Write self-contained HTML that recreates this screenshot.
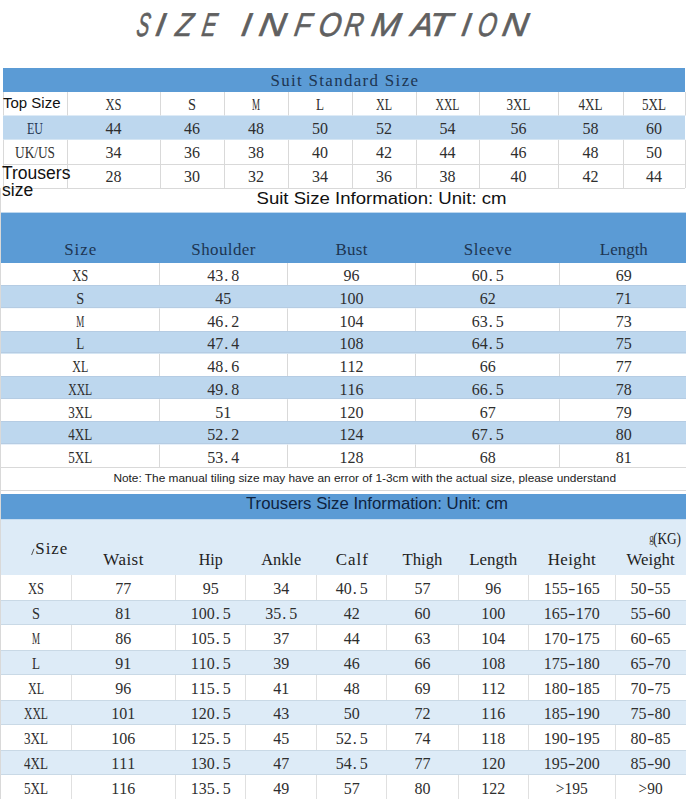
<!DOCTYPE html>
<html><head><meta charset="utf-8"><title>Size Information</title>
<style>
html,body{margin:0;padding:0;background:#fff;}
body{width:686px;height:799px;overflow:hidden;}
svg{display:block;}
.m{font-family:"Liberation Serif","Noto Serif CJK SC",serif;font-size:16px;}
.s{font-family:"Liberation Sans","Noto Sans CJK SC",sans-serif;}
.t{font-family:"Liberation Sans",sans-serif;font-size:33px;font-style:italic;}
</style></head>
<body>
<svg width="686" height="799" viewBox="0 0 686 799">
<rect x="0" y="0" width="686" height="799" fill="#fff"/>
<text class="t" transform="translate(0,36) skewX(-10)" y="0" fill="#606060" stroke="#606060" stroke-width="0.7"><tspan x="135.46" textLength="12.55" lengthAdjust="spacingAndGlyphs">S</tspan><tspan x="154.20" textLength="9.17" lengthAdjust="spacingAndGlyphs">I</tspan><tspan x="174.50" textLength="16.45" lengthAdjust="spacingAndGlyphs">Z</tspan><tspan x="200.76" textLength="14.18" lengthAdjust="spacingAndGlyphs">E</tspan> <tspan x="239.95" textLength="9.42" lengthAdjust="spacingAndGlyphs">I</tspan><tspan x="257.80" textLength="26.12" lengthAdjust="spacingAndGlyphs">N</tspan><tspan x="293.30" textLength="16.21" lengthAdjust="spacingAndGlyphs">F</tspan><tspan x="317.19" textLength="22.36" lengthAdjust="spacingAndGlyphs">O</tspan><tspan x="343.13" textLength="18.30" lengthAdjust="spacingAndGlyphs">R</tspan><tspan x="370.06" textLength="28.67" lengthAdjust="spacingAndGlyphs">M</tspan><tspan x="410.17" textLength="21.37" lengthAdjust="spacingAndGlyphs">A</tspan><tspan x="426.82" textLength="22.70" lengthAdjust="spacingAndGlyphs">T</tspan><tspan x="460.35" textLength="8.50" lengthAdjust="spacingAndGlyphs">I</tspan><tspan x="476.44" textLength="18.51" lengthAdjust="spacingAndGlyphs">O</tspan><tspan x="500.94" textLength="25.24" lengthAdjust="spacingAndGlyphs">N</tspan></text>
<rect x="3" y="68" width="682" height="24" fill="#5b9bd5"/>
<g transform="translate(270.40,86.3) scale(1.060,1)"><text class="m" x="0" y="0" fill="#1d3552" textLength="139.25" lengthAdjust="spacing">Suit Standard Size</text></g>
<rect x="3" y="92" width="682" height="23.5" fill="#fff"/>
<rect x="3" y="115.5" width="682" height="24.3" fill="#bdd7ee"/>
<rect x="3" y="139.8" width="682" height="24.2" fill="#fff"/>
<rect x="3" y="164" width="682" height="24" fill="#fff"/>
<rect x="3" y="164" width="682" height="1" fill="#d9d9d9"/>
<rect x="3" y="188" width="682" height="1" fill="#d9d9d9"/>
<rect x="3" y="92" width="1" height="23.5" fill="#d9d9d9"/>
<rect x="3" y="139.8" width="1" height="24.2" fill="#d9d9d9"/>
<rect x="3" y="164" width="1" height="24" fill="#d9d9d9"/>
<rect x="67" y="92" width="1" height="23.5" fill="#d9d9d9"/>
<rect x="67" y="139.8" width="1" height="24.2" fill="#d9d9d9"/>
<rect x="67" y="164" width="1" height="24" fill="#d9d9d9"/>
<rect x="160" y="92" width="1" height="23.5" fill="#d9d9d9"/>
<rect x="160" y="139.8" width="1" height="24.2" fill="#d9d9d9"/>
<rect x="160" y="164" width="1" height="24" fill="#d9d9d9"/>
<rect x="224" y="92" width="1" height="23.5" fill="#d9d9d9"/>
<rect x="224" y="139.8" width="1" height="24.2" fill="#d9d9d9"/>
<rect x="224" y="164" width="1" height="24" fill="#d9d9d9"/>
<rect x="288" y="92" width="1" height="23.5" fill="#d9d9d9"/>
<rect x="288" y="139.8" width="1" height="24.2" fill="#d9d9d9"/>
<rect x="288" y="164" width="1" height="24" fill="#d9d9d9"/>
<rect x="352" y="92" width="1" height="23.5" fill="#d9d9d9"/>
<rect x="352" y="139.8" width="1" height="24.2" fill="#d9d9d9"/>
<rect x="352" y="164" width="1" height="24" fill="#d9d9d9"/>
<rect x="416" y="92" width="1" height="23.5" fill="#d9d9d9"/>
<rect x="416" y="139.8" width="1" height="24.2" fill="#d9d9d9"/>
<rect x="416" y="164" width="1" height="24" fill="#d9d9d9"/>
<rect x="479" y="92" width="1" height="23.5" fill="#d9d9d9"/>
<rect x="479" y="139.8" width="1" height="24.2" fill="#d9d9d9"/>
<rect x="479" y="164" width="1" height="24" fill="#d9d9d9"/>
<rect x="558" y="92" width="1" height="23.5" fill="#d9d9d9"/>
<rect x="558" y="139.8" width="1" height="24.2" fill="#d9d9d9"/>
<rect x="558" y="164" width="1" height="24" fill="#d9d9d9"/>
<rect x="623" y="92" width="1" height="23.5" fill="#d9d9d9"/>
<rect x="623" y="139.8" width="1" height="24.2" fill="#d9d9d9"/>
<rect x="623" y="164" width="1" height="24" fill="#d9d9d9"/>
<rect x="685" y="92" width="1" height="23.5" fill="#d9d9d9"/>
<rect x="685" y="139.8" width="1" height="24.2" fill="#d9d9d9"/>
<rect x="685" y="164" width="1" height="24" fill="#d9d9d9"/>
<text class="m" x="105.50" y="110.4" fill="#2e2e2e" textLength="16.00" lengthAdjust="spacingAndGlyphs">XS</text>
<text class="m" x="188.00" y="110.4" fill="#2e2e2e" textLength="8.00" lengthAdjust="spacingAndGlyphs">S</text>
<text class="m" x="252.00" y="110.4" fill="#2e2e2e" textLength="8.00" lengthAdjust="spacingAndGlyphs">M</text>
<text class="m" x="316.00" y="110.4" fill="#2e2e2e" textLength="8.00" lengthAdjust="spacingAndGlyphs">L</text>
<text class="m" x="376.00" y="110.4" fill="#2e2e2e" textLength="16.00" lengthAdjust="spacingAndGlyphs">XL</text>
<text class="m" x="435.50" y="110.4" fill="#2e2e2e" textLength="24.00" lengthAdjust="spacingAndGlyphs">XXL</text>
<text class="m" x="506.50" y="110.4" fill="#2e2e2e" textLength="24.00" lengthAdjust="spacingAndGlyphs">3XL</text>
<text class="m" x="578.50" y="110.4" fill="#2e2e2e" textLength="24.00" lengthAdjust="spacingAndGlyphs">4XL</text>
<text class="m" x="642.00" y="110.4" fill="#2e2e2e" textLength="24.00" lengthAdjust="spacingAndGlyphs">5XL</text>
<text class="m" x="27.00" y="133.9" fill="#1f3550" textLength="16.00" lengthAdjust="spacingAndGlyphs">EU</text>
<text class="m" x="105.50 113.50" y="133.9" fill="#2e2e2e">44</text>
<text class="m" x="184.00 192.00" y="133.9" fill="#2e2e2e">46</text>
<text class="m" x="248.00 256.00" y="133.9" fill="#2e2e2e">48</text>
<text class="m" x="312.00 320.00" y="133.9" fill="#2e2e2e">50</text>
<text class="m" x="376.00 384.00" y="133.9" fill="#2e2e2e">52</text>
<text class="m" x="439.50 447.50" y="133.9" fill="#2e2e2e">54</text>
<text class="m" x="510.50 518.50" y="133.9" fill="#2e2e2e">56</text>
<text class="m" x="582.50 590.50" y="133.9" fill="#2e2e2e">58</text>
<text class="m" x="646.00 654.00" y="133.9" fill="#2e2e2e">60</text>
<text class="m" x="15.00" y="158.20000000000002" fill="#333" textLength="40.00" lengthAdjust="spacingAndGlyphs">UK/US</text>
<text class="m" x="105.50 113.50" y="158.20000000000002" fill="#2e2e2e">34</text>
<text class="m" x="184.00 192.00" y="158.20000000000002" fill="#2e2e2e">36</text>
<text class="m" x="248.00 256.00" y="158.20000000000002" fill="#2e2e2e">38</text>
<text class="m" x="312.00 320.00" y="158.20000000000002" fill="#2e2e2e">40</text>
<text class="m" x="376.00 384.00" y="158.20000000000002" fill="#2e2e2e">42</text>
<text class="m" x="439.50 447.50" y="158.20000000000002" fill="#2e2e2e">44</text>
<text class="m" x="510.50 518.50" y="158.20000000000002" fill="#2e2e2e">46</text>
<text class="m" x="582.50 590.50" y="158.20000000000002" fill="#2e2e2e">48</text>
<text class="m" x="646.00 654.00" y="158.20000000000002" fill="#2e2e2e">50</text>
<text class="m" x="105.50 113.50" y="182.4" fill="#2e2e2e">28</text>
<text class="m" x="184.00 192.00" y="182.4" fill="#2e2e2e">30</text>
<text class="m" x="248.00 256.00" y="182.4" fill="#2e2e2e">32</text>
<text class="m" x="312.00 320.00" y="182.4" fill="#2e2e2e">34</text>
<text class="m" x="376.00 384.00" y="182.4" fill="#2e2e2e">36</text>
<text class="m" x="439.50 447.50" y="182.4" fill="#2e2e2e">38</text>
<text class="m" x="510.50 518.50" y="182.4" fill="#2e2e2e">40</text>
<text class="m" x="582.50 590.50" y="182.4" fill="#2e2e2e">42</text>
<text class="m" x="646.00 654.00" y="182.4" fill="#2e2e2e">44</text>
<text class="s" x="3" y="107.7" font-size="15" fill="#111" text-anchor="start">Top Size</text>
<text class="s" x="2" y="179.2" font-size="17.5" fill="#111" text-anchor="start">Trousers</text>
<text class="s" x="2" y="195.6" font-size="17.5" fill="#111" text-anchor="start">size</text>
<text class="s" x="256.5" y="204" font-size="17" fill="#111" text-anchor="start" textLength="250" lengthAdjust="spacingAndGlyphs">Suit Size Information: Unit: cm</text>
<rect x="0" y="188" width="1" height="303" fill="#d9d9d9"/>
<rect x="1" y="212.6" width="685" height="50.4" fill="#5b9bd5"/>
<g transform="translate(64.25,255) scale(1.060,1)"><text class="m" x="0" y="0" fill="#1d3552" textLength="30.19" lengthAdjust="spacing">Size</text></g>
<g transform="translate(191.35,255) scale(1.060,1)"><text class="m" x="0" y="0" fill="#1d3552" textLength="60.38" lengthAdjust="spacing">Shoulder</text></g>
<g transform="translate(335.45,255) scale(1.060,1)"><text class="m" x="0" y="0" fill="#1d3552" textLength="30.19" lengthAdjust="spacing">Bust</text></g>
<g transform="translate(463.70,255) scale(1.060,1)"><text class="m" x="0" y="0" fill="#1d3552" textLength="45.28" lengthAdjust="spacing">Sleeve</text></g>
<g transform="translate(599.85,255) scale(1.059,1)"><text class="m" x="0" y="0" fill="#1d3552" textLength="45.32" lengthAdjust="spacing">Length</text></g>
<rect x="1" y="263.0" width="685" height="22.7" fill="#fff"/>
<rect x="159" y="263.0" width="1" height="22.7" fill="#d9d9d9"/>
<rect x="287" y="263.0" width="1" height="22.7" fill="#d9d9d9"/>
<rect x="415" y="263.0" width="1" height="22.7" fill="#d9d9d9"/>
<rect x="559" y="263.0" width="1" height="22.7" fill="#d9d9d9"/>
<text class="m" x="72.25" y="281.3" fill="#2e2e2e" textLength="16.00" lengthAdjust="spacingAndGlyphs">XS</text>
<text class="m" x="207.35 215.35 224.35 231.35" y="281.3" fill="#2e2e2e">43.8</text>
<text class="m" x="343.45 351.45" y="281.3" fill="#2e2e2e">96</text>
<text class="m" x="471.70 479.70 488.70 495.70" y="281.3" fill="#2e2e2e">60.5</text>
<text class="m" x="615.85 623.85" y="281.3" fill="#2e2e2e">69</text>
<rect x="1" y="285.7" width="685" height="22.7" fill="#bdd7ee"/>
<rect x="1" y="285" width="685" height="1" fill="#b5cce3"/>
<rect x="1" y="307" width="685" height="1" fill="#b5cce3"/>
<text class="m" x="76.25" y="304.0" fill="#2e2e2e" textLength="8.00" lengthAdjust="spacingAndGlyphs">S</text>
<text class="m" x="215.35 223.35" y="304.0" fill="#2e2e2e">45</text>
<text class="m" x="339.45 347.45 355.45" y="304.0" fill="#2e2e2e">100</text>
<text class="m" x="479.70 487.70" y="304.0" fill="#2e2e2e">62</text>
<text class="m" x="615.85 623.85" y="304.0" fill="#2e2e2e">71</text>
<rect x="1" y="308.4" width="685" height="22.7" fill="#fff"/>
<rect x="159" y="308.4" width="1" height="22.7" fill="#d9d9d9"/>
<rect x="287" y="308.4" width="1" height="22.7" fill="#d9d9d9"/>
<rect x="415" y="308.4" width="1" height="22.7" fill="#d9d9d9"/>
<rect x="559" y="308.4" width="1" height="22.7" fill="#d9d9d9"/>
<text class="m" x="76.25" y="326.7" fill="#2e2e2e" textLength="8.00" lengthAdjust="spacingAndGlyphs">M</text>
<text class="m" x="207.35 215.35 224.35 231.35" y="326.7" fill="#2e2e2e">46.2</text>
<text class="m" x="339.45 347.45 355.45" y="326.7" fill="#2e2e2e">104</text>
<text class="m" x="471.70 479.70 488.70 495.70" y="326.7" fill="#2e2e2e">63.5</text>
<text class="m" x="615.85 623.85" y="326.7" fill="#2e2e2e">73</text>
<rect x="1" y="331.1" width="685" height="22.7" fill="#bdd7ee"/>
<rect x="1" y="331" width="685" height="1" fill="#b5cce3"/>
<rect x="1" y="352" width="685" height="1" fill="#b5cce3"/>
<text class="m" x="76.25" y="349.4" fill="#2e2e2e" textLength="8.00" lengthAdjust="spacingAndGlyphs">L</text>
<text class="m" x="207.35 215.35 224.35 231.35" y="349.4" fill="#2e2e2e">47.4</text>
<text class="m" x="339.45 347.45 355.45" y="349.4" fill="#2e2e2e">108</text>
<text class="m" x="471.70 479.70 488.70 495.70" y="349.4" fill="#2e2e2e">64.5</text>
<text class="m" x="615.85 623.85" y="349.4" fill="#2e2e2e">75</text>
<rect x="1" y="353.8" width="685" height="22.7" fill="#fff"/>
<rect x="159" y="353.8" width="1" height="22.7" fill="#d9d9d9"/>
<rect x="287" y="353.8" width="1" height="22.7" fill="#d9d9d9"/>
<rect x="415" y="353.8" width="1" height="22.7" fill="#d9d9d9"/>
<rect x="559" y="353.8" width="1" height="22.7" fill="#d9d9d9"/>
<text class="m" x="72.25" y="372.1" fill="#2e2e2e" textLength="16.00" lengthAdjust="spacingAndGlyphs">XL</text>
<text class="m" x="207.35 215.35 224.35 231.35" y="372.1" fill="#2e2e2e">48.6</text>
<text class="m" x="339.45 347.45 355.45" y="372.1" fill="#2e2e2e">112</text>
<text class="m" x="479.70 487.70" y="372.1" fill="#2e2e2e">66</text>
<text class="m" x="615.85 623.85" y="372.1" fill="#2e2e2e">77</text>
<rect x="1" y="376.5" width="685" height="22.7" fill="#bdd7ee"/>
<rect x="1" y="376" width="685" height="1" fill="#b5cce3"/>
<rect x="1" y="398" width="685" height="1" fill="#b5cce3"/>
<text class="m" x="68.25" y="394.8" fill="#2e2e2e" textLength="24.00" lengthAdjust="spacingAndGlyphs">XXL</text>
<text class="m" x="207.35 215.35 224.35 231.35" y="394.8" fill="#2e2e2e">49.8</text>
<text class="m" x="339.45 347.45 355.45" y="394.8" fill="#2e2e2e">116</text>
<text class="m" x="471.70 479.70 488.70 495.70" y="394.8" fill="#2e2e2e">66.5</text>
<text class="m" x="615.85 623.85" y="394.8" fill="#2e2e2e">78</text>
<rect x="1" y="399.2" width="685" height="22.7" fill="#fff"/>
<rect x="159" y="399.2" width="1" height="22.7" fill="#d9d9d9"/>
<rect x="287" y="399.2" width="1" height="22.7" fill="#d9d9d9"/>
<rect x="415" y="399.2" width="1" height="22.7" fill="#d9d9d9"/>
<rect x="559" y="399.2" width="1" height="22.7" fill="#d9d9d9"/>
<text class="m" x="68.25" y="417.5" fill="#2e2e2e" textLength="24.00" lengthAdjust="spacingAndGlyphs">3XL</text>
<text class="m" x="215.35 223.35" y="417.5" fill="#2e2e2e">51</text>
<text class="m" x="339.45 347.45 355.45" y="417.5" fill="#2e2e2e">120</text>
<text class="m" x="479.70 487.70" y="417.5" fill="#2e2e2e">67</text>
<text class="m" x="615.85 623.85" y="417.5" fill="#2e2e2e">79</text>
<rect x="1" y="421.9" width="685" height="22.7" fill="#bdd7ee"/>
<rect x="1" y="421" width="685" height="1" fill="#b5cce3"/>
<rect x="1" y="443" width="685" height="1" fill="#b5cce3"/>
<text class="m" x="68.25" y="440.2" fill="#2e2e2e" textLength="24.00" lengthAdjust="spacingAndGlyphs">4XL</text>
<text class="m" x="207.35 215.35 224.35 231.35" y="440.2" fill="#2e2e2e">52.2</text>
<text class="m" x="339.45 347.45 355.45" y="440.2" fill="#2e2e2e">124</text>
<text class="m" x="471.70 479.70 488.70 495.70" y="440.2" fill="#2e2e2e">67.5</text>
<text class="m" x="615.85 623.85" y="440.2" fill="#2e2e2e">80</text>
<rect x="1" y="444.6" width="685" height="22.7" fill="#fff"/>
<rect x="159" y="444.6" width="1" height="22.7" fill="#d9d9d9"/>
<rect x="287" y="444.6" width="1" height="22.7" fill="#d9d9d9"/>
<rect x="415" y="444.6" width="1" height="22.7" fill="#d9d9d9"/>
<rect x="559" y="444.6" width="1" height="22.7" fill="#d9d9d9"/>
<text class="m" x="68.25" y="462.9" fill="#2e2e2e" textLength="24.00" lengthAdjust="spacingAndGlyphs">5XL</text>
<text class="m" x="207.35 215.35 224.35 231.35" y="462.9" fill="#2e2e2e">53.4</text>
<text class="m" x="339.45 347.45 355.45" y="462.9" fill="#2e2e2e">128</text>
<text class="m" x="479.70 487.70" y="462.9" fill="#2e2e2e">68</text>
<text class="m" x="615.85 623.85" y="462.9" fill="#2e2e2e">81</text>
<rect x="1" y="467" width="685" height="1" fill="#d9d9d9"/>
<text class="s" x="113.4" y="482.2" font-size="11.5" fill="#222" text-anchor="start" textLength="502.6" lengthAdjust="spacingAndGlyphs">Note: The manual tiling size may have an error of 1-3cm with the actual size, please understand</text>
<rect x="1" y="490" width="685" height="1" fill="#d9d9d9"/>
<rect x="1" y="494" width="685" height="25.5" fill="#5b9bd5"/>
<text class="s" x="246" y="509.4" font-size="17" fill="#0e2340" text-anchor="start" textLength="262" lengthAdjust="spacingAndGlyphs">Trousers Size Information: Unit: cm</text>
<rect x="1" y="519.5" width="685" height="55.5" fill="#ddebf7"/>
<g transform="translate(35.30,553.7) scale(1.060,1)"><text class="m" x="0" y="0" fill="#222" textLength="30.19" lengthAdjust="spacing">Size</text></g>
<line x1="34" y1="548.8" x2="31.6" y2="555" stroke="#555" stroke-width="1"/>
<g transform="translate(103.35,564.9) scale(1.060,1)"><text class="m" x="0" y="0" fill="#222" textLength="37.74" lengthAdjust="spacing">Waist</text></g>
<g transform="translate(198.65,564.9) scale(1.000,1)"><text class="m" x="0" y="0" fill="#222" textLength="24.00" lengthAdjust="spacing">Hip</text></g>
<g transform="translate(261.15,564.9) scale(1.023,1)"><text class="m" x="0" y="0" fill="#222" textLength="39.10" lengthAdjust="spacing">Ankle</text></g>
<g transform="translate(335.80,564.9) scale(1.060,1)"><text class="m" x="0" y="0" fill="#222" textLength="30.19" lengthAdjust="spacing">Calf</text></g>
<g transform="translate(402.45,564.9) scale(1.047,1)"><text class="m" x="0" y="0" fill="#222" textLength="38.22" lengthAdjust="spacing">Thigh</text></g>
<g transform="translate(469.15,564.9) scale(1.059,1)"><text class="m" x="0" y="0" fill="#222" textLength="45.32" lengthAdjust="spacing">Length</text></g>
<g transform="translate(547.75,564.9) scale(1.060,1)"><text class="m" x="0" y="0" fill="#222" textLength="45.28" lengthAdjust="spacing">Height</text></g>
<g transform="translate(626.60,564.9) scale(1.048,1)"><text class="m" x="0" y="0" fill="#222" textLength="45.81" lengthAdjust="spacing">Weight</text></g>
<text class="m" x="653" y="543.8" fill="#222" textLength="28" lengthAdjust="spacingAndGlyphs">(KG)</text>
<text class="m" x="649.2" y="541.5" fill="#444" style="font-size:13px" textLength="4.5" lengthAdjust="spacingAndGlyphs">g</text>
<rect x="1" y="575.0" width="685" height="25.0" fill="#fff"/>
<rect x="71" y="575.0" width="1" height="25.0" fill="#e0e0e0"/>
<rect x="175" y="575.0" width="1" height="25.0" fill="#e0e0e0"/>
<rect x="245" y="575.0" width="1" height="25.0" fill="#e0e0e0"/>
<rect x="316" y="575.0" width="1" height="25.0" fill="#e0e0e0"/>
<rect x="386" y="575.0" width="1" height="25.0" fill="#e0e0e0"/>
<rect x="458" y="575.0" width="1" height="25.0" fill="#e0e0e0"/>
<rect x="528" y="575.0" width="1" height="25.0" fill="#e0e0e0"/>
<rect x="615" y="575.0" width="1" height="25.0" fill="#e0e0e0"/>
<text class="m" x="28.00" y="594.2" fill="#2e2e2e" textLength="16.00" lengthAdjust="spacingAndGlyphs">XS</text>
<text class="m" x="115.35 123.35" y="594.2" fill="#2e2e2e">77</text>
<text class="m" x="202.65 210.65" y="594.2" fill="#2e2e2e">95</text>
<text class="m" x="273.15 281.15" y="594.2" fill="#2e2e2e">34</text>
<text class="m" x="335.80 343.80 352.80 359.80" y="594.2" fill="#2e2e2e">40.5</text>
<text class="m" x="414.45 422.45" y="594.2" fill="#2e2e2e">57</text>
<text class="m" x="485.15 493.15" y="594.2" fill="#2e2e2e">96</text>
<text class="m" y="594.2" fill="#2e2e2e"><tspan x="543.75">1</tspan><tspan x="551.75">5</tspan><tspan x="559.75">5</tspan><tspan x="568.05" textLength="7.40" lengthAdjust="spacingAndGlyphs">-</tspan><tspan x="575.75">1</tspan><tspan x="583.75">6</tspan><tspan x="591.75">5</tspan></text>
<text class="m" y="594.2" fill="#2e2e2e"><tspan x="630.60">5</tspan><tspan x="638.60">0</tspan><tspan x="646.90" textLength="7.40" lengthAdjust="spacingAndGlyphs">-</tspan><tspan x="654.60">5</tspan><tspan x="662.60">5</tspan></text>
<rect x="1" y="600.0" width="685" height="25.0" fill="#ddebf7"/>
<rect x="1" y="600" width="685" height="1" fill="#c9d9e6"/>
<rect x="1" y="624" width="685" height="1" fill="#c9d9e6"/>
<text class="m" x="32.00" y="619.2" fill="#2e2e2e" textLength="8.00" lengthAdjust="spacingAndGlyphs">S</text>
<text class="m" x="115.35 123.35" y="619.2" fill="#2e2e2e">81</text>
<text class="m" x="190.65 198.65 206.65 215.65 222.65" y="619.2" fill="#2e2e2e">100.5</text>
<text class="m" x="265.15 273.15 282.15 289.15" y="619.2" fill="#2e2e2e">35.5</text>
<text class="m" x="343.80 351.80" y="619.2" fill="#2e2e2e">42</text>
<text class="m" x="414.45 422.45" y="619.2" fill="#2e2e2e">60</text>
<text class="m" x="481.15 489.15 497.15" y="619.2" fill="#2e2e2e">100</text>
<text class="m" y="619.2" fill="#2e2e2e"><tspan x="543.75">1</tspan><tspan x="551.75">6</tspan><tspan x="559.75">5</tspan><tspan x="568.05" textLength="7.40" lengthAdjust="spacingAndGlyphs">-</tspan><tspan x="575.75">1</tspan><tspan x="583.75">7</tspan><tspan x="591.75">0</tspan></text>
<text class="m" y="619.2" fill="#2e2e2e"><tspan x="630.60">5</tspan><tspan x="638.60">5</tspan><tspan x="646.90" textLength="7.40" lengthAdjust="spacingAndGlyphs">-</tspan><tspan x="654.60">6</tspan><tspan x="662.60">0</tspan></text>
<rect x="1" y="625.0" width="685" height="25.0" fill="#fff"/>
<rect x="71" y="625.0" width="1" height="25.0" fill="#e0e0e0"/>
<rect x="175" y="625.0" width="1" height="25.0" fill="#e0e0e0"/>
<rect x="245" y="625.0" width="1" height="25.0" fill="#e0e0e0"/>
<rect x="316" y="625.0" width="1" height="25.0" fill="#e0e0e0"/>
<rect x="386" y="625.0" width="1" height="25.0" fill="#e0e0e0"/>
<rect x="458" y="625.0" width="1" height="25.0" fill="#e0e0e0"/>
<rect x="528" y="625.0" width="1" height="25.0" fill="#e0e0e0"/>
<rect x="615" y="625.0" width="1" height="25.0" fill="#e0e0e0"/>
<text class="m" x="32.00" y="644.2" fill="#2e2e2e" textLength="8.00" lengthAdjust="spacingAndGlyphs">M</text>
<text class="m" x="115.35 123.35" y="644.2" fill="#2e2e2e">86</text>
<text class="m" x="190.65 198.65 206.65 215.65 222.65" y="644.2" fill="#2e2e2e">105.5</text>
<text class="m" x="273.15 281.15" y="644.2" fill="#2e2e2e">37</text>
<text class="m" x="343.80 351.80" y="644.2" fill="#2e2e2e">44</text>
<text class="m" x="414.45 422.45" y="644.2" fill="#2e2e2e">63</text>
<text class="m" x="481.15 489.15 497.15" y="644.2" fill="#2e2e2e">104</text>
<text class="m" y="644.2" fill="#2e2e2e"><tspan x="543.75">1</tspan><tspan x="551.75">7</tspan><tspan x="559.75">0</tspan><tspan x="568.05" textLength="7.40" lengthAdjust="spacingAndGlyphs">-</tspan><tspan x="575.75">1</tspan><tspan x="583.75">7</tspan><tspan x="591.75">5</tspan></text>
<text class="m" y="644.2" fill="#2e2e2e"><tspan x="630.60">6</tspan><tspan x="638.60">0</tspan><tspan x="646.90" textLength="7.40" lengthAdjust="spacingAndGlyphs">-</tspan><tspan x="654.60">6</tspan><tspan x="662.60">5</tspan></text>
<rect x="1" y="650.0" width="685" height="25.0" fill="#ddebf7"/>
<rect x="1" y="650" width="685" height="1" fill="#c9d9e6"/>
<rect x="1" y="674" width="685" height="1" fill="#c9d9e6"/>
<text class="m" x="32.00" y="669.2" fill="#2e2e2e" textLength="8.00" lengthAdjust="spacingAndGlyphs">L</text>
<text class="m" x="115.35 123.35" y="669.2" fill="#2e2e2e">91</text>
<text class="m" x="190.65 198.65 206.65 215.65 222.65" y="669.2" fill="#2e2e2e">110.5</text>
<text class="m" x="273.15 281.15" y="669.2" fill="#2e2e2e">39</text>
<text class="m" x="343.80 351.80" y="669.2" fill="#2e2e2e">46</text>
<text class="m" x="414.45 422.45" y="669.2" fill="#2e2e2e">66</text>
<text class="m" x="481.15 489.15 497.15" y="669.2" fill="#2e2e2e">108</text>
<text class="m" y="669.2" fill="#2e2e2e"><tspan x="543.75">1</tspan><tspan x="551.75">7</tspan><tspan x="559.75">5</tspan><tspan x="568.05" textLength="7.40" lengthAdjust="spacingAndGlyphs">-</tspan><tspan x="575.75">1</tspan><tspan x="583.75">8</tspan><tspan x="591.75">0</tspan></text>
<text class="m" y="669.2" fill="#2e2e2e"><tspan x="630.60">6</tspan><tspan x="638.60">5</tspan><tspan x="646.90" textLength="7.40" lengthAdjust="spacingAndGlyphs">-</tspan><tspan x="654.60">7</tspan><tspan x="662.60">0</tspan></text>
<rect x="1" y="675.0" width="685" height="25.0" fill="#fff"/>
<rect x="71" y="675.0" width="1" height="25.0" fill="#e0e0e0"/>
<rect x="175" y="675.0" width="1" height="25.0" fill="#e0e0e0"/>
<rect x="245" y="675.0" width="1" height="25.0" fill="#e0e0e0"/>
<rect x="316" y="675.0" width="1" height="25.0" fill="#e0e0e0"/>
<rect x="386" y="675.0" width="1" height="25.0" fill="#e0e0e0"/>
<rect x="458" y="675.0" width="1" height="25.0" fill="#e0e0e0"/>
<rect x="528" y="675.0" width="1" height="25.0" fill="#e0e0e0"/>
<rect x="615" y="675.0" width="1" height="25.0" fill="#e0e0e0"/>
<text class="m" x="28.00" y="694.2" fill="#2e2e2e" textLength="16.00" lengthAdjust="spacingAndGlyphs">XL</text>
<text class="m" x="115.35 123.35" y="694.2" fill="#2e2e2e">96</text>
<text class="m" x="190.65 198.65 206.65 215.65 222.65" y="694.2" fill="#2e2e2e">115.5</text>
<text class="m" x="273.15 281.15" y="694.2" fill="#2e2e2e">41</text>
<text class="m" x="343.80 351.80" y="694.2" fill="#2e2e2e">48</text>
<text class="m" x="414.45 422.45" y="694.2" fill="#2e2e2e">69</text>
<text class="m" x="481.15 489.15 497.15" y="694.2" fill="#2e2e2e">112</text>
<text class="m" y="694.2" fill="#2e2e2e"><tspan x="543.75">1</tspan><tspan x="551.75">8</tspan><tspan x="559.75">0</tspan><tspan x="568.05" textLength="7.40" lengthAdjust="spacingAndGlyphs">-</tspan><tspan x="575.75">1</tspan><tspan x="583.75">8</tspan><tspan x="591.75">5</tspan></text>
<text class="m" y="694.2" fill="#2e2e2e"><tspan x="630.60">7</tspan><tspan x="638.60">0</tspan><tspan x="646.90" textLength="7.40" lengthAdjust="spacingAndGlyphs">-</tspan><tspan x="654.60">7</tspan><tspan x="662.60">5</tspan></text>
<rect x="1" y="700.0" width="685" height="25.0" fill="#ddebf7"/>
<rect x="1" y="700" width="685" height="1" fill="#c9d9e6"/>
<rect x="1" y="724" width="685" height="1" fill="#c9d9e6"/>
<text class="m" x="24.00" y="719.2" fill="#2e2e2e" textLength="24.00" lengthAdjust="spacingAndGlyphs">XXL</text>
<text class="m" x="111.35 119.35 127.35" y="719.2" fill="#2e2e2e">101</text>
<text class="m" x="190.65 198.65 206.65 215.65 222.65" y="719.2" fill="#2e2e2e">120.5</text>
<text class="m" x="273.15 281.15" y="719.2" fill="#2e2e2e">43</text>
<text class="m" x="343.80 351.80" y="719.2" fill="#2e2e2e">50</text>
<text class="m" x="414.45 422.45" y="719.2" fill="#2e2e2e">72</text>
<text class="m" x="481.15 489.15 497.15" y="719.2" fill="#2e2e2e">116</text>
<text class="m" y="719.2" fill="#2e2e2e"><tspan x="543.75">1</tspan><tspan x="551.75">8</tspan><tspan x="559.75">5</tspan><tspan x="568.05" textLength="7.40" lengthAdjust="spacingAndGlyphs">-</tspan><tspan x="575.75">1</tspan><tspan x="583.75">9</tspan><tspan x="591.75">0</tspan></text>
<text class="m" y="719.2" fill="#2e2e2e"><tspan x="630.60">7</tspan><tspan x="638.60">5</tspan><tspan x="646.90" textLength="7.40" lengthAdjust="spacingAndGlyphs">-</tspan><tspan x="654.60">8</tspan><tspan x="662.60">0</tspan></text>
<rect x="1" y="725.0" width="685" height="25.0" fill="#fff"/>
<rect x="71" y="725.0" width="1" height="25.0" fill="#e0e0e0"/>
<rect x="175" y="725.0" width="1" height="25.0" fill="#e0e0e0"/>
<rect x="245" y="725.0" width="1" height="25.0" fill="#e0e0e0"/>
<rect x="316" y="725.0" width="1" height="25.0" fill="#e0e0e0"/>
<rect x="386" y="725.0" width="1" height="25.0" fill="#e0e0e0"/>
<rect x="458" y="725.0" width="1" height="25.0" fill="#e0e0e0"/>
<rect x="528" y="725.0" width="1" height="25.0" fill="#e0e0e0"/>
<rect x="615" y="725.0" width="1" height="25.0" fill="#e0e0e0"/>
<text class="m" x="24.00" y="744.2" fill="#2e2e2e" textLength="24.00" lengthAdjust="spacingAndGlyphs">3XL</text>
<text class="m" x="111.35 119.35 127.35" y="744.2" fill="#2e2e2e">106</text>
<text class="m" x="190.65 198.65 206.65 215.65 222.65" y="744.2" fill="#2e2e2e">125.5</text>
<text class="m" x="273.15 281.15" y="744.2" fill="#2e2e2e">45</text>
<text class="m" x="335.80 343.80 352.80 359.80" y="744.2" fill="#2e2e2e">52.5</text>
<text class="m" x="414.45 422.45" y="744.2" fill="#2e2e2e">74</text>
<text class="m" x="481.15 489.15 497.15" y="744.2" fill="#2e2e2e">118</text>
<text class="m" y="744.2" fill="#2e2e2e"><tspan x="543.75">1</tspan><tspan x="551.75">9</tspan><tspan x="559.75">0</tspan><tspan x="568.05" textLength="7.40" lengthAdjust="spacingAndGlyphs">-</tspan><tspan x="575.75">1</tspan><tspan x="583.75">9</tspan><tspan x="591.75">5</tspan></text>
<text class="m" y="744.2" fill="#2e2e2e"><tspan x="630.60">8</tspan><tspan x="638.60">0</tspan><tspan x="646.90" textLength="7.40" lengthAdjust="spacingAndGlyphs">-</tspan><tspan x="654.60">8</tspan><tspan x="662.60">5</tspan></text>
<rect x="1" y="750.0" width="685" height="25.0" fill="#ddebf7"/>
<rect x="1" y="750" width="685" height="1" fill="#c9d9e6"/>
<rect x="1" y="774" width="685" height="1" fill="#c9d9e6"/>
<text class="m" x="24.00" y="769.2" fill="#2e2e2e" textLength="24.00" lengthAdjust="spacingAndGlyphs">4XL</text>
<text class="m" x="111.35 119.35 127.35" y="769.2" fill="#2e2e2e">111</text>
<text class="m" x="190.65 198.65 206.65 215.65 222.65" y="769.2" fill="#2e2e2e">130.5</text>
<text class="m" x="273.15 281.15" y="769.2" fill="#2e2e2e">47</text>
<text class="m" x="335.80 343.80 352.80 359.80" y="769.2" fill="#2e2e2e">54.5</text>
<text class="m" x="414.45 422.45" y="769.2" fill="#2e2e2e">77</text>
<text class="m" x="481.15 489.15 497.15" y="769.2" fill="#2e2e2e">120</text>
<text class="m" y="769.2" fill="#2e2e2e"><tspan x="543.75">1</tspan><tspan x="551.75">9</tspan><tspan x="559.75">5</tspan><tspan x="568.05" textLength="7.40" lengthAdjust="spacingAndGlyphs">-</tspan><tspan x="575.75">2</tspan><tspan x="583.75">0</tspan><tspan x="591.75">0</tspan></text>
<text class="m" y="769.2" fill="#2e2e2e"><tspan x="630.60">8</tspan><tspan x="638.60">5</tspan><tspan x="646.90" textLength="7.40" lengthAdjust="spacingAndGlyphs">-</tspan><tspan x="654.60">9</tspan><tspan x="662.60">0</tspan></text>
<rect x="1" y="775.0" width="685" height="25.0" fill="#fff"/>
<rect x="71" y="775.0" width="1" height="25.0" fill="#e0e0e0"/>
<rect x="175" y="775.0" width="1" height="25.0" fill="#e0e0e0"/>
<rect x="245" y="775.0" width="1" height="25.0" fill="#e0e0e0"/>
<rect x="316" y="775.0" width="1" height="25.0" fill="#e0e0e0"/>
<rect x="386" y="775.0" width="1" height="25.0" fill="#e0e0e0"/>
<rect x="458" y="775.0" width="1" height="25.0" fill="#e0e0e0"/>
<rect x="528" y="775.0" width="1" height="25.0" fill="#e0e0e0"/>
<rect x="615" y="775.0" width="1" height="25.0" fill="#e0e0e0"/>
<text class="m" x="24.00" y="794.2" fill="#2e2e2e" textLength="24.00" lengthAdjust="spacingAndGlyphs">5XL</text>
<text class="m" x="111.35 119.35 127.35" y="794.2" fill="#2e2e2e">116</text>
<text class="m" x="190.65 198.65 206.65 215.65 222.65" y="794.2" fill="#2e2e2e">135.5</text>
<text class="m" x="273.15 281.15" y="794.2" fill="#2e2e2e">49</text>
<text class="m" x="343.80 351.80" y="794.2" fill="#2e2e2e">57</text>
<text class="m" x="414.45 422.45" y="794.2" fill="#2e2e2e">80</text>
<text class="m" x="481.15 489.15 497.15" y="794.2" fill="#2e2e2e">122</text>
<text class="m" x="555.75" y="794.2" fill="#2e2e2e" textLength="32.00" lengthAdjust="spacingAndGlyphs">&gt;195</text>
<text class="m" x="638.60" y="794.2" fill="#2e2e2e" textLength="24.00" lengthAdjust="spacingAndGlyphs">&gt;90</text>
<rect x="0" y="491" width="1" height="308" fill="#d9d9d9"/>
</svg>
</body></html>
